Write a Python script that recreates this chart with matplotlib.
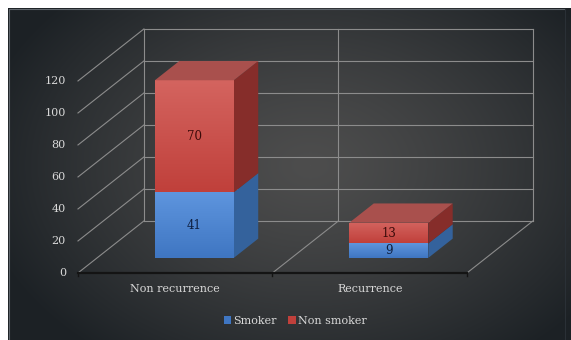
import numpy as np
import matplotlib
matplotlib.use("Agg")
import matplotlib.pyplot as plt
from matplotlib.patches import Polygon, Patch, Rectangle

categories = ["Non recurrence", "Recurrence"]
series_names = ["Smoker", "Non smoker"]
smoker = [41, 9]
non_smoker = [70, 13]
y_ticks = [0, 20, 40, 60, 80, 100, 120]

# oblique 3d look: depth shifts points right and up
DX = 0.339
DV = 32.5
D_FRONT, D_BACK = 0.29, 0.66
BAR_W = 0.406

front_cols = [("#5e95de", "#3f76c2"), ("#d4645f", "#c0403b")]
side_cols = ["#34629c", "#862d2a"]
top_cols = ["#4a7cc0", "#a9504d"]
label_cols = ["#0e1e3e", "#3a0a09"]
text_col = "#d9d9d9"


def proj(x, v, d):
    return x + DX * d, v + DV * d


def line3(ax, p0, p1, **kw):
    a = proj(*p0)
    b = proj(*p1)
    ax.plot([a[0], b[0]], [a[1], b[1]], **kw)


def gradient_face(ax, pts, c_top, c_bot, zorder):
    poly = Polygon(pts, closed=True, facecolor="none", edgecolor="none", zorder=zorder)
    ax.add_patch(poly)
    xs = [p[0] for p in pts]
    ys = [p[1] for p in pts]
    grad = np.linspace(0, 1, 64).reshape(-1, 1)
    top = np.array(matplotlib.colors.to_rgb(c_top))
    bot = np.array(matplotlib.colors.to_rgb(c_bot))
    img = top[None, None, :] * (1 - grad[..., None]) + bot[None, None, :] * grad[..., None]
    im = ax.imshow(img, extent=[min(xs), max(xs), min(ys), max(ys)], origin="upper",
                   aspect="auto", zorder=zorder, interpolation="bilinear")
    im.set_clip_path(poly)


fig = plt.figure(figsize=(5.71, 3.40), dpi=100)
fig.patch.set_facecolor("white")

# background panel with a soft radial gradient
bg = fig.add_axes([0, 0, 1, 1])
bg.set_xlim(0, 571)
bg.set_ylim(340, 0)
bg.axis("off")
yy, xx = np.mgrid[8:340, 8:571]
r = np.sqrt(((xx - 310) / 340.0) ** 2 + ((yy - 165) / 240.0) ** 2)
r = np.clip(r, 0, 1) ** 1.3
inner = np.array(matplotlib.colors.to_rgb("#4d4d4d"))
outer = np.array(matplotlib.colors.to_rgb("#1c2125"))
bg_img = inner * (1 - r[..., None]) + outer * r[..., None]
bg.imshow(bg_img, extent=[8, 571, 340, 8], aspect="auto", interpolation="bilinear")
bg.plot([8.5, 8.5, 565], [340, 8.5, 8.5], color="#5f666c", lw=0.8)
bg.plot([565, 565], [8.5, 340], color="#2a3036", lw=0.8)
bg.set_xlim(0, 571)
bg.set_ylim(340, 0)

ax = fig.add_axes([0, 0, 1, 1])
ax.patch.set_alpha(0)
ax.axis("off")

grid_kw = dict(color="#8c8c8c", lw=0.8, zorder=1)
n = len(categories)
top_v = y_ticks[-1]

# walls and floor
for v in y_ticks:
    line3(ax, (0, v, 0), (0, v, 1), **grid_kw)
    line3(ax, (0, v, 1), (n, v, 1), **grid_kw)
for i in range(n + 1):
    line3(ax, (i, 0, 1), (i, top_v, 1), **grid_kw)
    if i > 0:
        line3(ax, (i, 0, 0), (i, 0, 1), **grid_kw)

# front category axis with tick marks
line3(ax, (0, 0, 0), (n, 0, 0), color="#141414", lw=1.6, zorder=2)
for i in range(n + 1):
    ax.plot([i, i], [0, -2.2], color="#141414", lw=1.0, zorder=2)

# stacked 3d bars
for i in range(n):
    x0 = i + 0.5 - BAR_W / 2
    x1 = i + 0.5 + BAR_W / 2
    base = 0
    stack = [smoker[i], non_smoker[i]]
    for s, val in enumerate(stack):
        top = base + val
        z = 3 + s
        side = [proj(x1, base, D_FRONT), proj(x1, base, D_BACK),
                proj(x1, top, D_BACK), proj(x1, top, D_FRONT)]
        ax.add_patch(Polygon(side, closed=True, facecolor=side_cols[s], edgecolor="none", zorder=z))
        front = [proj(x0, base, D_FRONT), proj(x1, base, D_FRONT),
                 proj(x1, top, D_FRONT), proj(x0, top, D_FRONT)]
        gradient_face(ax, front, front_cols[s][0], front_cols[s][1], z)
        if s == len(stack) - 1:
            lid = [proj(x0, top, D_FRONT), proj(x1, top, D_FRONT),
                   proj(x1, top, D_BACK), proj(x0, top, D_BACK)]
            ax.add_patch(Polygon(lid, closed=True, facecolor=top_cols[s], edgecolor="none", zorder=z))
        lx, ly = proj(i + 0.5, base + val / 2, D_FRONT)
        ax.text(lx, ly, str(val), ha="center", va="center", fontsize=8.5,
                family="DejaVu Serif", color=label_cols[s], zorder=10)
        base = top

# value axis labels on the front left edge
for v in y_ticks:
    ax.text(-0.062, v, str(v), ha="right", va="center", fontsize=8,
            family="DejaVu Serif", color=text_col)

for i, name in enumerate(categories):
    ax.text(i + 0.5, -10, name, ha="center", va="center", fontsize=8,
            family="DejaVu Serif", color=text_col)

ax.set_xlim(-0.401, 2.535)
ax.set_ylim(-41.9, 170.6)

handles = [Patch(facecolor=front_cols[k][1], edgecolor="none") for k in range(2)]
fig.legend(handles, series_names, loc="center", bbox_to_anchor=(0.517, 0.056),
           ncol=2, frameon=False, handlelength=0.7, handleheight=0.7,
           handletextpad=0.2, columnspacing=1.0,
           prop={"family": "DejaVu Serif", "size": 8}, labelcolor=text_col)

fig.savefig("out.png", dpi=100)
